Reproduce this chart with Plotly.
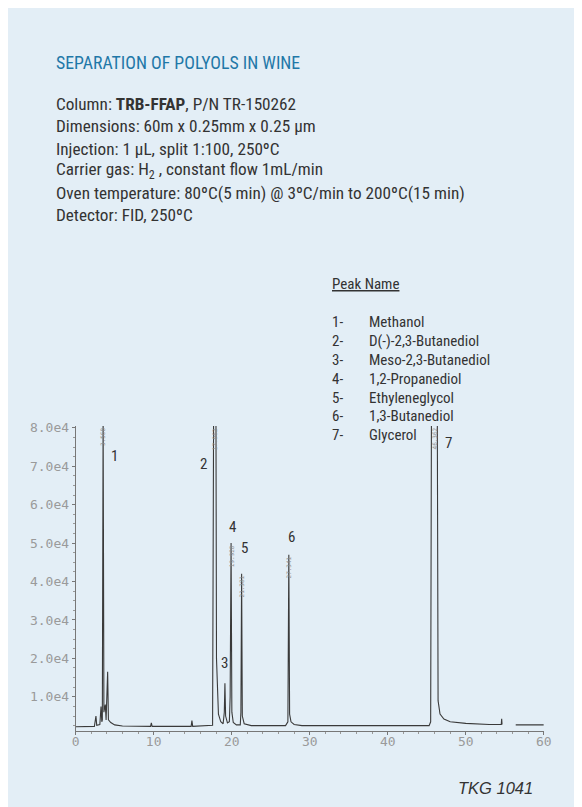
import plotly.graph_objects as go

# ---------------- data ----------------
time_min = [0.0, 2.4, 2.6, 2.7, 3.1, 3.25, 3.35, 3.42, 3.52, 3.62, 3.8, 3.9, 4.1, 4.2, 4.5, 5.0, 6.0,
            9.6, 9.7, 9.8, 14.8, 14.9, 15.0,
            17.4, 17.55, 17.68, 17.8, 17.98, 18.05, 18.3, 18.6, 18.9, 19.05, 19.13, 19.22, 19.45,
            19.7, 19.8, 19.92, 20.02, 20.2, 20.6, 21.1, 21.18, 21.27, 21.36, 21.6, 22.5,
            26.9, 27.2, 27.32, 27.42, 27.6, 28.0, 29.0,
            45.3, 45.5, 45.6, 46.35, 46.45, 46.7, 47.2, 48.0, 50.0, 53.0, 54.55, 54.6, 54.65,
            55.5, 56.4, 60.0]
signal = [2200, 2300, 5000, 2600, 2800, 7500, 3500, 4000, 84000, 6000, 8000, 4000, 16500, 4000, 3300, 2700, 2400,
          2300, 3200, 2300, 2300, 3800, 2300,
          2400, 2600, 84000, 84000, 84000, 20000, 5500, 3500, 3000, 6000, 13500, 5000, 3200,
          3500, 10000, 50000, 6000, 3300, 2700, 2700, 6000, 42000, 5000, 3000, 2500,
          2500, 3500, 47000, 5500, 3500, 2800, 2500,
          2500, 3500, 84000, 84000, 9000, 5500, 4200, 3500, 3100, 2800, 2800, 4300, 2800,
          None, 2700, 2700]

peak_ids = ["1", "2", "3", "4", "5", "6", "7"]
peak_names = ["Methanol", "D(-)-2,3-Butanediol", "Meso-2,3-Butanediol", "1,2-Propanediol",
              "Ethyleneglycol", "1,3-Butanediol", "Glycerol"]
peak_rt = [3.52, 17.9, 19.13, 19.92, 21.27, 27.32, 46.0]
peak_height = [80500, 80500, 13500, 50000, 42000, 47000, 80500]
rt_labels = ["3.568", "17.962", "", "19.928", "21.381", "27.341", "46.362"]

y_tickvals = [10000, 20000, 30000, 40000, 50000, 60000, 70000, 80000]
y_ticktext = ["1.0e4", "2.0e4", "3.0e4", "4.0e4", "5.0e4", "6.0e4", "7.0e4", "8.0e4"]
x_tickvals = [0, 10, 20, 30, 40, 50, 60]

title_text = "SEPARATION OF POLYOLS IN WINE"
info_lines = [
    "Column: <b>TRB-FFAP</b>, P/N TR-150262",
    "Dimensions: 60m x 0.25mm x 0.25 µm",
    "Injection: 1 µL, split 1:100, 250ºC",
    "Carrier gas: H<sub>2</sub> , constant flow 1mL/min",
    "Oven temperature: 80ºC(5 min) @ 3ºC/min to 200ºC(15 min)",
    "Detector: FID, 250ºC",
]
footer_text = "TKG 1041"

# ---------------- figure ----------------
W, H = 582, 807
OFF = 8  # page margin around the figure
BG = "#e3eef6"
TXT = "#333333"
NARROW = "Liberation Sans Narrow, Roboto Condensed, Liberation Sans, Arial"

def px(x):
    return (x - OFF) / W

def py(y):
    return 1 - (y - OFF) / H

fig = go.Figure()
fig.add_trace(go.Scatter(x=time_min, y=signal, mode="lines",
                         line=dict(color="#3a3a3a", width=1.1),
                         connectgaps=False, hoverinfo="skip", showlegend=False))

ann = []
ann.append(dict(text=title_text, x=px(51), y=py(57), xref="paper", yref="paper",
                xanchor="left", yanchor="middle", showarrow=False,
                font=dict(family=NARROW, size=17.8, color="#1f78a8")))
for i, line in enumerate(info_lines):
    ann.append(dict(text=line, x=px(51), y=py(99 + i * 22.3), xref="paper", yref="paper",
                    xanchor="left", yanchor="middle", showarrow=False,
                    font=dict(family=NARROW, size=17.2, color=TXT)))

ann.append(dict(text="<u>Peak Name</u>", x=px(333), y=py(280), xref="paper", yref="paper",
                xanchor="left", yanchor="middle", showarrow=False,
                font=dict(family=NARROW, size=15, color=TXT)))
for i, (pid, name) in enumerate(zip(peak_ids, peak_names)):
    yy = py(318 + i * 19.1)
    ann.append(dict(text=pid + "-", x=px(333), y=yy, xref="paper", yref="paper",
                    xanchor="left", yanchor="middle", showarrow=False,
                    font=dict(family=NARROW, size=15, color=TXT)))
    ann.append(dict(text=name, x=px(370), y=yy, xref="paper", yref="paper",
                    xanchor="left", yanchor="middle", showarrow=False,
                    font=dict(family=NARROW, size=15, color=TXT)))

# peak number labels (data coords)
num_pos = [(5.0, 72800), (16.4, 70700), (19.07, 18800), (20.1, 54200),
           (21.6, 48800), (27.6, 51600), (47.8, 76100)]
for pid, (xx, yy) in zip(peak_ids, num_pos):
    ann.append(dict(text=pid, x=xx, y=yy, xref="x", yref="y", showarrow=False,
                    xanchor="center", yanchor="middle",
                    font=dict(family=NARROW, size=15, color=TXT)))

# retention time labels
for rt, h, lab in zip(peak_rt, peak_height, rt_labels):
    if not lab:
        continue
    ann.append(dict(text=lab, x=rt, y=min(h, 80500), xref="x", yref="y", showarrow=False,
                    textangle=-90, xanchor="center", yanchor="top",
                    font=dict(family="DejaVu Sans Mono", size=6, color="#8a8a8a")))

ann.append(dict(text="<i>" + footer_text + "</i>", x=px(542), y=py(788), xref="paper", yref="paper",
                xanchor="right", yanchor="middle", showarrow=False,
                font=dict(family="Liberation Sans, Arial", size=16.5, color=TXT)))

tickfont = dict(family="DejaVu Sans Mono", size=13, color="#9a9a9a")
fig.update_layout(
    width=W, height=H, margin=dict(l=0, r=0, t=0, b=0),
    paper_bgcolor=BG, plot_bgcolor="rgba(0,0,0,0)",
    annotations=ann, showlegend=False,
    xaxis=dict(domain=[px(73), px(551)], range=[0, 60], showgrid=False, zeroline=False,
               showline=True, linecolor="#777777", linewidth=1,
               ticks="outside", ticklen=3, tickcolor="#777777",
               tickvals=x_tickvals, tickfont=tickfont, ticklabelstandoff=-4,
               minor=dict(dtick=2, ticks="outside", ticklen=2, tickcolor="#999999")),
    yaxis=dict(domain=[py(730), py(423)], range=[1200, 80500], showgrid=False, zeroline=False,
               showline=True, linecolor="#777777", linewidth=1,
               ticks="outside", ticklen=3, tickcolor="#777777",
               tickvals=y_tickvals, ticktext=y_ticktext, tickfont=tickfont,
               minor=dict(dtick=2500, ticks="outside", ticklen=2, tickcolor="#999999")),
)

fig.write_html("out.html")
